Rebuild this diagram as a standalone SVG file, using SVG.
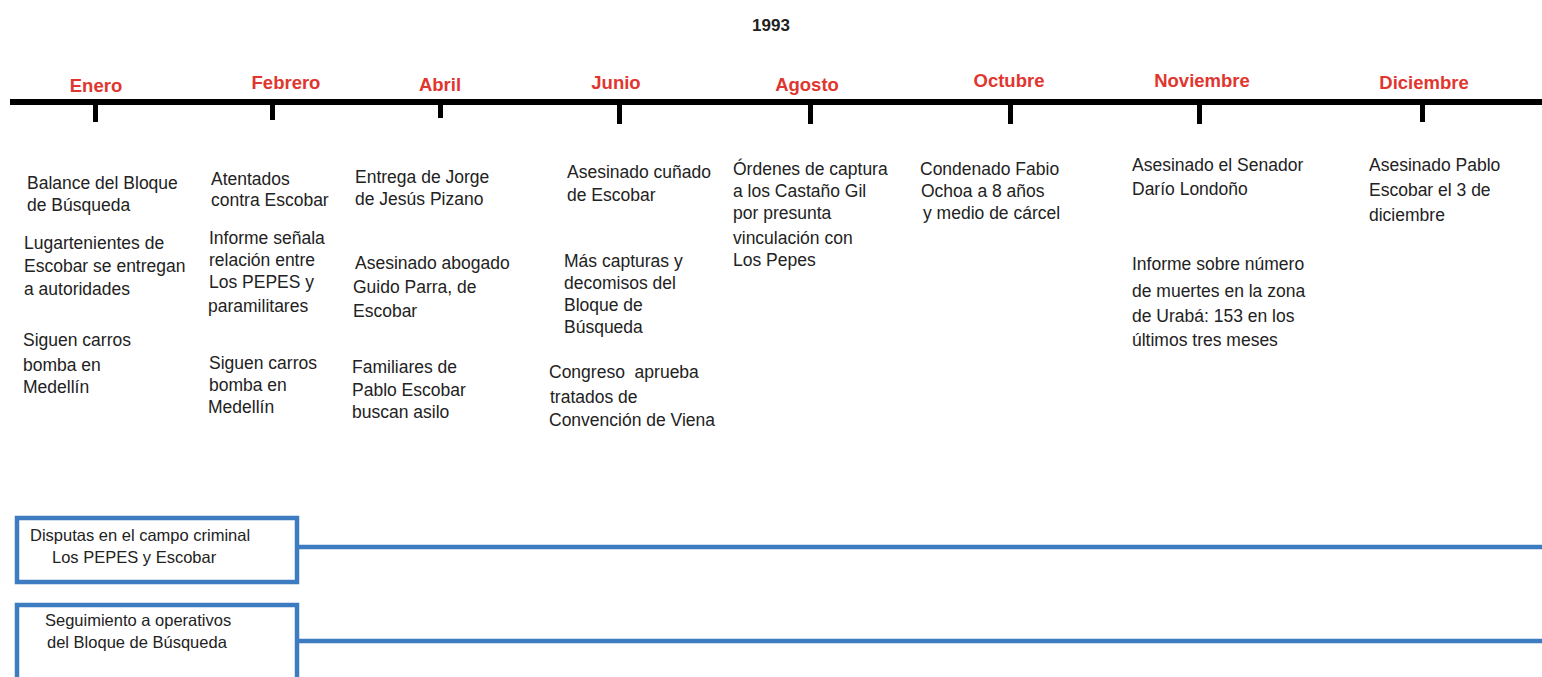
<svg xmlns="http://www.w3.org/2000/svg" width="1542" height="677" viewBox="0 0 1542 677">
<style>
.m{font-family:"Liberation Sans",Arial,sans-serif;font-weight:bold;font-size:18.5px;fill:#e0362f}
.t{font-family:"Liberation Sans",Arial,sans-serif;font-size:17.5px;fill:#222}
.b{font-family:"Liberation Sans",Arial,sans-serif;font-size:16.5px;fill:#222}
.y{font-family:"Liberation Sans",Arial,sans-serif;font-weight:bold;font-size:17px;fill:#222}
.tick{fill:#000}
.box{fill:#fff;stroke:#3d7cc0;stroke-width:4.5}
.ln{stroke:#3d7cc0;stroke-width:4.5;fill:none}
</style>
<rect width="1542" height="677" fill="#fff"/>
<g id="title"><text class="y" x="771" y="31" text-anchor="middle">1993</text></g>
<g id="axis">
<rect x="10" y="99" width="1532" height="6" fill="#000"/>
<rect class="tick" x="93" y="105" width="5" height="17"/>
<rect class="tick" x="270" y="105" width="5" height="15"/>
<rect class="tick" x="438" y="105" width="5" height="13"/>
<rect class="tick" x="617" y="105" width="5" height="19"/>
<rect class="tick" x="808" y="105" width="5" height="19"/>
<rect class="tick" x="1008" y="105" width="5" height="19"/>
<rect class="tick" x="1197" y="105" width="5" height="19"/>
<rect class="tick" x="1420" y="105" width="5" height="17"/>
</g>
<g id="months">
<text class="m" x="96" y="92" text-anchor="middle">Enero</text>
<text class="m" x="286" y="89" text-anchor="middle">Febrero</text>
<text class="m" x="440" y="91" text-anchor="middle">Abril</text>
<text class="m" x="616" y="89" text-anchor="middle">Junio</text>
<text class="m" x="807" y="91" text-anchor="middle">Agosto</text>
<text class="m" x="1009" y="87" text-anchor="middle">Octubre</text>
<text class="m" x="1202" y="87" text-anchor="middle">Noviembre</text>
<text class="m" x="1424" y="89" text-anchor="middle">Diciembre</text>
</g>
<g id="enero">
<text class="t" x="27" y="189">Balance del Bloque</text>
<text class="t" x="27" y="211">de Búsqueda</text>
<text class="t" x="24" y="249">Lugartenientes de</text>
<text class="t" x="24" y="272">Escobar se entregan</text>
<text class="t" x="24" y="295">a autoridades</text>
<text class="t" x="23" y="346">Siguen carros</text>
<text class="t" x="23" y="371">bomba en</text>
<text class="t" x="23" y="393">Medellín</text>
</g>
<g id="febrero">
<text class="t" x="211" y="185">Atentados</text>
<text class="t" x="211" y="206">contra Escobar</text>
<text class="t" x="209" y="244">Informe señala</text>
<text class="t" x="209" y="266">relación entre</text>
<text class="t" x="209" y="288">Los PEPES y</text>
<text class="t" x="208" y="312">paramilitares</text>
<text class="t" x="209" y="369">Siguen carros</text>
<text class="t" x="209" y="391">bomba en</text>
<text class="t" x="208" y="413">Medellín</text>
</g>
<g id="abril">
<text class="t" x="355" y="183">Entrega de Jorge</text>
<text class="t" x="355" y="205">de Jesús Pizano</text>
<text class="t" x="355" y="269">Asesinado abogado</text>
<text class="t" x="353" y="293">Guido Parra, de</text>
<text class="t" x="353" y="317">Escobar</text>
<text class="t" x="352" y="373">Familiares de</text>
<text class="t" x="352" y="396">Pablo Escobar</text>
<text class="t" x="352" y="418">buscan asilo</text>
</g>
<g id="junio">
<text class="t" x="567" y="178">Asesinado cuñado</text>
<text class="t" x="567" y="201">de Escobar</text>
<text class="t" x="564" y="267">Más capturas y</text>
<text class="t" x="564" y="289">decomisos del</text>
<text class="t" x="564" y="311">Bloque de</text>
<text class="t" x="564" y="333">Búsqueda</text>
<text class="t" x="549" y="378" xml:space="preserve">Congreso  aprueba</text>
<text class="t" x="550" y="403">tratados de</text>
<text class="t" x="549" y="426">Convención de Viena</text>
</g>
<g id="agosto">
<text class="t" x="733" y="175">Órdenes de captura</text>
<text class="t" x="733" y="197">a los Castaño Gil</text>
<text class="t" x="733" y="219">por presunta</text>
<text class="t" x="733" y="244">vinculación con</text>
<text class="t" x="733" y="266">Los Pepes</text>
</g>
<g id="octubre">
<text class="t" x="920" y="175">Condenado Fabio</text>
<text class="t" x="921" y="197">Ochoa a 8 años</text>
<text class="t" x="923" y="219">y medio de cárcel</text>
</g>
<g id="noviembre">
<text class="t" x="1132" y="171">Asesinado el Senador</text>
<text class="t" x="1132" y="195">Darío Londoño</text>
<text class="t" x="1132" y="270">Informe sobre número</text>
<text class="t" x="1132" y="297">de muertes en la zona</text>
<text class="t" x="1132" y="322">de Urabá: 153 en los</text>
<text class="t" x="1132" y="346">últimos tres meses</text>
</g>
<g id="diciembre">
<text class="t" x="1369" y="171">Asesinado Pablo</text>
<text class="t" x="1369" y="196">Escobar el 3 de</text>
<text class="t" x="1369" y="221">diciembre</text>
</g>
<g id="connectors">
<line class="ln" x1="297" y1="547" x2="1542" y2="547"/>
<line class="ln" x1="297" y1="641" x2="1542" y2="641"/>
</g>
<g id="box1">
<rect class="box" x="17" y="518" width="280" height="64"/>
<text class="b" x="30" y="541">Disputas en el campo criminal</text>
<text class="b" x="52" y="563">Los PEPES y Escobar</text>
</g>
<g id="box2">
<rect class="box" x="17" y="605" width="280" height="80"/>
<text class="b" x="45" y="626">Seguimiento a operativos</text>
<text class="b" x="47" y="648">del Bloque de Búsqueda</text>
</g>
</svg>
